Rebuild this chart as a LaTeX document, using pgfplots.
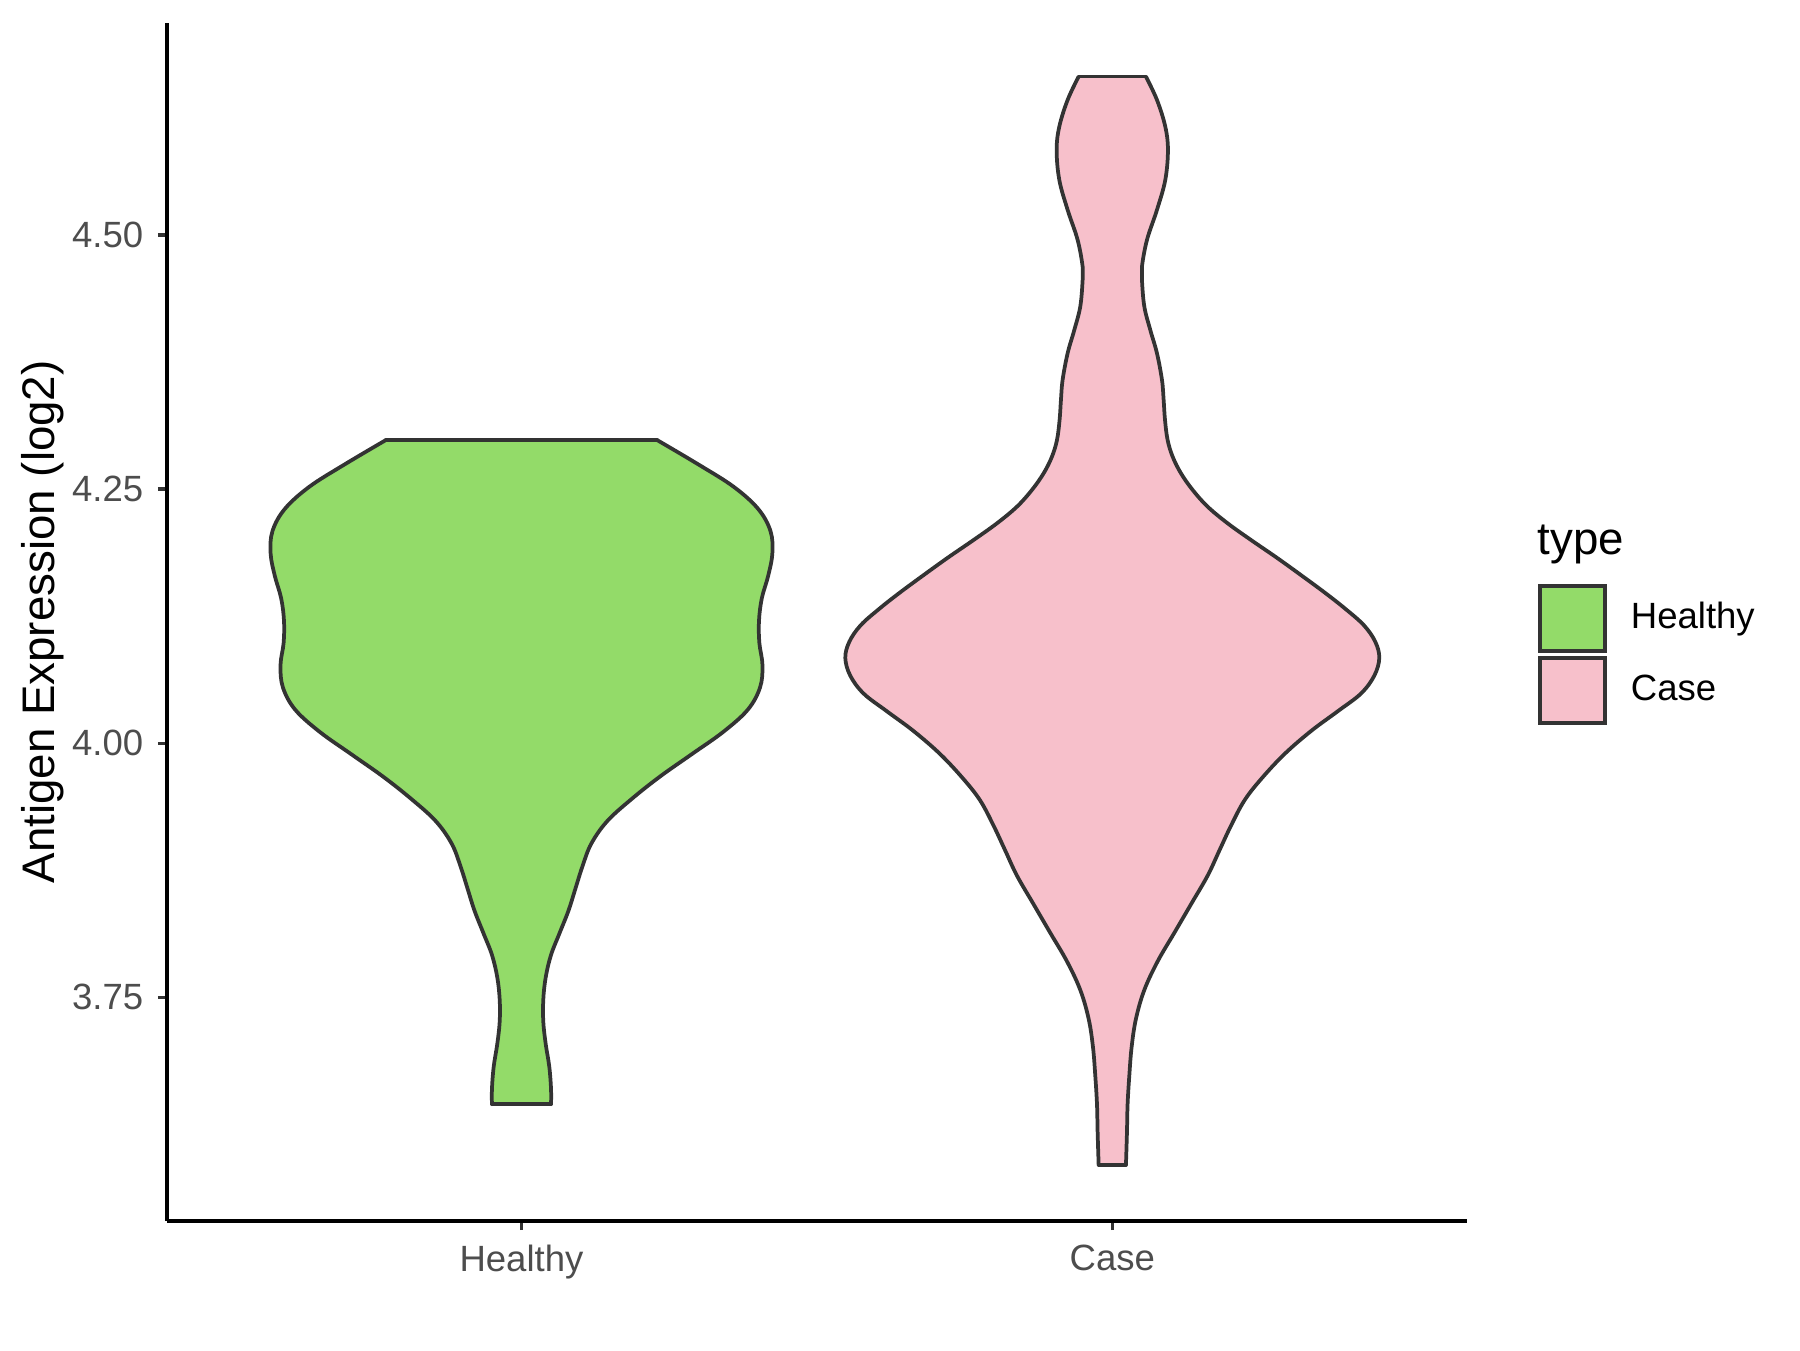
\documentclass[border=0pt]{standalone}
\usepackage{fontspec}
\setmainfont{Liberation Sans}
\usepackage{pgfplots}
\usepgfplotslibrary{fillbetween}
\pgfplotsset{compat=1.18}
\definecolor{healthy}{HTML}{93DB69}
\definecolor{casepink}{HTML}{F7C0CB}
\definecolor{outline}{HTML}{333333}
\definecolor{ticklab}{HTML}{4D4D4D}
\pgfplotsset{vline/.style={draw=outline, line width=0.9pt, line cap=round, line join=round, forget plot}}
\begin{document}
\begin{tikzpicture}
\begin{axis}[
  set layers,
  at={(0pt,0pt)}, anchor=south west,
  scale only axis, width=313.1pt, height=288.7pt,
  xmin=-0.6, xmax=1.6, ymin=3.530, ymax=4.709,
  axis x line*=bottom, axis y line*=left,
  axis line style={black, line width=0.8pt},
  xtick={0,1}, xticklabels={Healthy,Case},
  ytick={3.75,4,4.25,4.5},
  yticklabel style={/pgf/number format/.cd, fixed, fixed zerofill, precision=2},
  /pgf/number format/assume math mode=true,
  tick align=outside, major tick length=2.2pt,
  tick style={outline, line width=0.8pt},
  ticklabel style={font=\fontsize{8.8}{10}\selectfont, text=ticklab},
  ylabel={Antigen Expression (log2)},
  ylabel style={font=\fontsize{11}{13}\selectfont, at={(axis description cs:-0.0958,0.5)}, anchor=center},
  clip=false,
  legend style={at={(axis description cs:1.0538,0.5321)}, anchor=north west, draw=none, fill=none, inner sep=0pt, row sep=0.6pt, font=\fontsize{8.8}{10}\selectfont, /tikz/every odd column/.append style={column sep=3.8pt}},
  legend cell align=left,
  legend image code/.code={\draw[#1, line width=0.96pt] (0pt,-7.86pt) rectangle (15.73pt,7.86pt);},
]
% ---- Healthy ----
\addplot[vline, name path=hL, smooth, tension=0.6] coordinates {
(-0.2295,4.2983) (-0.2997,4.2742) (-0.3592,4.2523) (-0.4008,4.2304) (-0.4216,4.2085) (-0.4246,4.1865) (-0.4175,4.1646) (-0.4068,4.1427) (-0.4020,4.1207) (-0.4026,4.0988) (-0.4079,4.0769) (-0.4038,4.0549) (-0.3830,4.0330) (-0.3413,4.0111) (-0.2878,3.9891) (-0.2343,3.9672) (-0.1867,3.9453) (-0.1451,3.9234) (-0.1183,3.9014) (-0.1035,3.8795) (-0.0916,3.8576) (-0.0797,3.8356) (-0.0648,3.8137) (-0.0500,3.7918) (-0.0410,3.7698) (-0.0369,3.7479) (-0.0369,3.7260) (-0.0410,3.7041) (-0.0470,3.6821) (-0.0500,3.6602) (-0.0500,3.6448)
};
\addplot[vline, name path=hR, smooth, tension=0.6] coordinates {
(0.2295,4.2983) (0.2997,4.2742) (0.3592,4.2523) (0.4008,4.2304) (0.4216,4.2085) (0.4246,4.1865) (0.4175,4.1646) (0.4068,4.1427) (0.4020,4.1207) (0.4026,4.0988) (0.4079,4.0769) (0.4038,4.0549) (0.3830,4.0330) (0.3413,4.0111) (0.2878,3.9891) (0.2343,3.9672) (0.1867,3.9453) (0.1451,3.9234) (0.1183,3.9014) (0.1035,3.8795) (0.0916,3.8576) (0.0797,3.8356) (0.0648,3.8137) (0.0500,3.7918) (0.0410,3.7698) (0.0369,3.7479) (0.0369,3.7260) (0.0410,3.7041) (0.0470,3.6821) (0.0500,3.6602) (0.0500,3.6448)
};
\addplot[vline] coordinates {(-0.2295,4.2983) (0.2295,4.2983)};
\addplot[vline] coordinates {(-0.0500,3.6448) (0.0500,3.6448)};
\addplot[fill=healthy, draw=none, forget plot] fill between[of=hL and hR, reverse=true];
% ---- Case ----
\addplot[vline, name path=cL, smooth, tension=0.6] coordinates {
(0.9430,4.6558) (0.9244,4.6329) (0.9103,4.6066) (0.9058,4.5837) (0.9103,4.5542) (0.9244,4.5247) (0.9413,4.4952) (0.9498,4.4689) (0.9498,4.4558) (0.9458,4.4296) (0.9357,4.4066) (0.9244,4.3837) (0.9159,4.3574) (0.9131,4.3378) (0.9108,4.3181) (0.9064,4.2984) (0.8979,4.2820) (0.8838,4.2656) (0.8640,4.2492) (0.8387,4.2328) (0.8048,4.2164) (0.7653,4.2000) (0.7202,4.1820) (0.6770,4.1639) (0.6390,4.1476) (0.6050,4.1320) (0.5740,4.1160) (0.5550,4.1000) (0.5481,4.0840) (0.5565,4.0665) (0.5791,4.0489) (0.6186,4.0314) (0.6637,4.0120) (0.7089,3.9892) (0.7484,3.9646) (0.7766,3.9435) (0.7991,3.9189) (0.8189,3.8943) (0.8387,3.8697) (0.8668,3.8416) (0.8951,3.8134) (0.9233,3.7854) (0.9458,3.7573) (0.9599,3.7291) (0.9673,3.7011) (0.9712,3.6730) (0.9741,3.6448) (0.9752,3.6167) (0.9769,3.5851)
};
\addplot[vline, name path=cR, smooth, tension=0.6] coordinates {
(1.0570,4.6558) (1.0756,4.6329) (1.0897,4.6066) (1.0942,4.5837) (1.0897,4.5542) (1.0756,4.5247) (1.0587,4.4952) (1.0502,4.4689) (1.0502,4.4558) (1.0542,4.4296) (1.0643,4.4066) (1.0756,4.3837) (1.0841,4.3574) (1.0869,4.3378) (1.0892,4.3181) (1.0936,4.2984) (1.1021,4.2820) (1.1162,4.2656) (1.1360,4.2492) (1.1613,4.2328) (1.1952,4.2164) (1.2347,4.2000) (1.2798,4.1820) (1.3230,4.1639) (1.3610,4.1476) (1.3950,4.1320) (1.4260,4.1160) (1.4450,4.1000) (1.4519,4.0840) (1.4435,4.0665) (1.4209,4.0489) (1.3814,4.0314) (1.3363,4.0120) (1.2911,3.9892) (1.2516,3.9646) (1.2234,3.9435) (1.2009,3.9189) (1.1811,3.8943) (1.1613,3.8697) (1.1332,3.8416) (1.1049,3.8134) (1.0767,3.7854) (1.0542,3.7573) (1.0401,3.7291) (1.0327,3.7011) (1.0288,3.6730) (1.0259,3.6448) (1.0248,3.6167) (1.0231,3.5851)
};
\addplot[vline] coordinates {(0.9430,4.6558) (1.0570,4.6558)};
\addplot[vline] coordinates {(0.9769,3.5851) (1.0231,3.5851)};
\addplot[fill=casepink, draw=none, forget plot] fill between[of=cL and cR, reverse=true];
% ---- legend ----
\addlegendimage{fill=healthy, draw=outline}
\addlegendentry{Healthy}
\addlegendimage{fill=casepink, draw=outline}
\addlegendentry{Case}
\node[anchor=base west, font=\fontsize{11}{13}\selectfont, inner sep=0pt] at (axis description cs:1.0538,0.5563) {type};
\end{axis}
\path[use as bounding box] (-40.23pt,-31.07pt) rectangle (393.37pt,294.13pt);
\end{tikzpicture}
\end{document}
